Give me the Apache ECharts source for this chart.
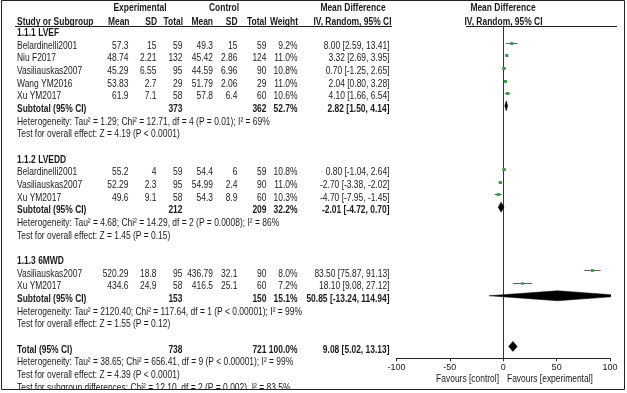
<!DOCTYPE html>
<html><head><meta charset="utf-8">
<script src="https://cdn.jsdelivr.net/npm/echarts@6/dist/echarts.min.js"></script>
<style>html,body{margin:0;padding:0;background:#fff}#c{width:627px;height:393px}</style>
</head><body><div id="c"></div>
<script>
// ---------------- DATA ----------------
const groupNames = ['1.1.1 LVEF', '1.1.2 LVEDD', '1.1.3 6MWD'];
const studyNames = ['Belardinelli2001', 'Niu F2017', 'Vasiliauskas2007', 'Wang YM2016', 'Xu YM2017',
                    'Belardinelli2001', 'Vasiliauskas2007', 'Xu YM2017',
                    'Vasiliauskas2007', 'Xu YM2017'];
const studyGroup = [0, 0, 0, 0, 0, 1, 1, 1, 2, 2];
const expMean  = [57.3, 48.74, 45.29, 53.83, 61.9, 55.2, 52.29, 49.6, 520.29, 434.6];
const expSD    = [15, 2.21, 6.55, 2.7, 7.1, 4, 2.3, 9.1, 18.8, 24.9];
const expN     = [59, 132, 95, 29, 58, 59, 95, 58, 95, 58];
const ctrlMean = [49.3, 45.42, 44.59, 51.79, 57.8, 54.4, 54.99, 54.3, 436.79, 416.5];
const ctrlSD   = [15, 2.86, 6.96, 2.06, 6.4, 6, 2.4, 8.9, 32.1, 25.1];
const ctrlN    = [59, 124, 90, 29, 60, 59, 90, 60, 90, 60];
const weight   = [9.2, 11.0, 10.8, 11.0, 10.6, 10.8, 11.0, 10.3, 8.0, 7.2];
const md       = [8.00, 3.32, 0.70, 2.04, 4.10, 0.80, -2.70, -4.70, 83.50, 18.10];
const ciLow    = [2.59, 2.69, -1.25, 0.80, 1.66, -1.04, -3.38, -7.95, 75.87, 9.08];
const ciHigh   = [13.41, 3.95, 2.65, 3.28, 6.54, 2.64, -2.02, -1.45, 91.13, 27.12];

const subExpN   = [373, 212, 153];
const subCtrlN  = [362, 209, 150];
const subWeight = [52.7, 32.2, 15.1];
const subMD     = [2.82, -2.01, 50.85];
const subLow    = [1.50, -4.72, -13.24];
const subHigh   = [4.14, 0.70, 114.94];
const subHet = [
  'Heterogeneity: Tau\u00b2 = 1.29; Chi\u00b2 = 12.71, df = 4 (P = 0.01); I\u00b2 = 69%',
  'Heterogeneity: Tau\u00b2 = 4.68; Chi\u00b2 = 14.29, df = 2 (P = 0.0008); I\u00b2 = 86%',
  'Heterogeneity: Tau\u00b2 = 2120.40; Chi\u00b2 = 117.64, df = 1 (P < 0.00001); I\u00b2 = 99%'
];
const subTest = [
  'Test for overall effect: Z = 4.19 (P < 0.0001)',
  'Test for overall effect: Z = 1.45 (P = 0.15)',
  'Test for overall effect: Z = 1.55 (P = 0.12)'
];
const totalExpN = 738, totalCtrlN = 721, totalWeight = 100.0;
const totalMD = 9.08, totalLow = 5.02, totalHigh = 13.13;
const totalHet = 'Heterogeneity: Tau\u00b2 = 38.65; Chi\u00b2 = 656.41, df = 9 (P < 0.00001); I\u00b2 = 99%';
const totalTest = 'Test for overall effect: Z = 4.39 (P < 0.0001)';
const subgroupTest = 'Test for subgroup differences: Chi\u00b2 = 12.10, df = 2 (P = 0.002), I\u00b2 = 83.5%';
const xTicks = [-100, -50, 0, 50, 100];
const favourLeft = 'Favours [control]';
const favourRight = 'Favours [experimental]';

// ---------------- FONT DETECTION ----------------
function textW(font, s) {
  const c = document.createElement('canvas').getContext('2d');
  c.font = font; return c.measureText(s).width;
}
const probe = 'Favours [experimental] 0123';
const narrowOK = textW('10px "Liberation Sans Narrow", monospace', probe) !== textW('10px monospace', probe);
const FONT = narrowOK ? '"Liberation Sans Narrow", "Arial Narrow", sans-serif' : '"Liberation Sans", Arial, sans-serif';
const SX = narrowOK ? 1 : 0.82;
const FS = 10.3;

// ---------------- LAYOUT ----------------
const TXT = '#1a1a1a';
const ROW0 = 33.2, STEP = 12.66, MARK_SHIFT = -3.3;
const rowY = r => ROW0 + r * STEP;
const COL = {name: 17, em: 128.5, esd: 156.5, en: 182.5, cm: 213, csd: 237.5, cn: 266.5, w: 297.5, ci: 389.5};
const PLOT = {left: 396.5, right: 610, top: 26, axisY: 358.3};

const fmtCI = (m, l, h) => m.toFixed(2) + ' [' + l.toFixed(2) + ', ' + h.toFixed(2) + ']';

const graphics = [];
function txt(s, x, y, align, bold) {
  graphics.push({
    type: 'text', x: x, y: y, scaleX: SX, silent: true, z: 10,
    style: {text: String(s), fontFamily: FONT, fontSize: FS, fontWeight: bold ? 'bold' : 'normal',
            fill: TXT, align: align || 'left', verticalAlign: 'middle'}
  });
}

// headers
const H1 = 8.3, H2 = 22.2;
txt('Experimental', 140, H1, 'center', true);
txt('Control', 224, H1, 'center', true);
txt('Mean Difference', 353, H1, 'center', true);
txt('Mean Difference', 503, H1, 'center', true);
txt('Study or Subgroup', COL.name, H2, 'left', true);
txt('Mean', COL.em + 1, H2, 'right', true);
txt('SD', COL.esd + 0.5, H2, 'right', true);
txt('Total', COL.en + 0.5, H2, 'right', true);
txt('Mean', COL.cm, H2, 'right', true);
txt('SD', COL.csd, H2, 'right', true);
txt('Total', COL.cn, H2, 'right', true);
txt('Weight', COL.w + 0.5, H2, 'right', true);
txt('IV, Random, 95% CI', COL.ci + 2, H2, 'right', true);
txt('IV, Random, 95% CI', 503.5, H2, 'center', true);
graphics.push({type: 'line', silent: true, shape: {x1: 15, y1: 26.5, x2: 392, y2: 26.5}, style: {stroke: '#222', lineWidth: 1}});
graphics.push({type: 'line', silent: true, shape: {x1: 466, y1: 26.5, x2: 617, y2: 26.5}, style: {stroke: '#222', lineWidth: 1}});

// rows
const studyMarks = [];
const diamondMarks = [];
let r = 0;
groupNames.forEach((g, gi) => {
  txt(g, COL.name, rowY(r), 'left', true);
  r++;
  studyNames.forEach((n, i) => {
    if (studyGroup[i] !== gi) return;
    const y = rowY(r);
    txt(n, COL.name, y, 'left');
    txt(expMean[i], COL.em, y, 'right');
    txt(expSD[i], COL.esd, y, 'right');
    txt(expN[i], COL.en, y, 'right');
    txt(ctrlMean[i], COL.cm, y, 'right');
    txt(ctrlSD[i], COL.csd, y, 'right');
    txt(ctrlN[i], COL.cn, y, 'right');
    txt(weight[i].toFixed(1) + '%', COL.w, y, 'right');
    txt(fmtCI(md[i], ciLow[i], ciHigh[i]), COL.ci, y, 'right');
    studyMarks.push([md[i], ciLow[i], ciHigh[i], r, weight[i]]);
    r++;
  });
  const y = rowY(r);
  txt('Subtotal (95% CI)', COL.name, y, 'left', true);
  txt(subExpN[gi], COL.en, y, 'right', true);
  txt(subCtrlN[gi], COL.cn, y, 'right', true);
  txt(subWeight[gi].toFixed(1) + '%', COL.w, y, 'right', true);
  txt(fmtCI(subMD[gi], subLow[gi], subHigh[gi]), COL.ci, y, 'right', true);
  diamondMarks.push([subMD[gi], subLow[gi], subHigh[gi], r]);
  r++;
  txt(subHet[gi], COL.name, rowY(r), 'left'); r++;
  txt(subTest[gi], COL.name, rowY(r), 'left'); r++;
  r++; // blank
});
const yT = rowY(r);
txt('Total (95% CI)', COL.name, yT, 'left', true);
txt(totalExpN, COL.en, yT, 'right', true);
txt(totalCtrlN, COL.cn, yT, 'right', true);
txt(totalWeight.toFixed(1) + '%', COL.w, yT, 'right', true);
txt(fmtCI(totalMD, totalLow, totalHigh), COL.ci, yT, 'right', true);
diamondMarks.push([totalMD, totalLow, totalHigh, r]);
r++;
txt(totalHet, COL.name, rowY(r), 'left'); r++;
txt(totalTest, COL.name, rowY(r), 'left'); r++;
txt(subgroupTest, COL.name, rowY(r), 'left'); r++;

txt(favourLeft, 499, 379, 'right');
txt(favourRight, 507, 379, 'left');

// frame & bottom clip
graphics.push({type: 'rect', silent: true, z: 20, shape: {x: 0, y: 389.5, width: 627, height: 4}, style: {fill: '#fff'}});
graphics.push({type: 'rect', silent: true, z: 21, shape: {x: 1.5, y: 0.5, width: 623, height: 389}, style: {fill: null, stroke: '#222', lineWidth: 1}});

const markBase = ROW0 + MARK_SHIFT;
const yMin = (PLOT.top - markBase) / STEP;
const yMax = (PLOT.axisY - markBase) / STEP;

const option = {
  animation: false,
  backgroundColor: '#fff',
  grid: {left: PLOT.left, right: 627 - PLOT.right, top: PLOT.top, bottom: 393 - PLOT.axisY, containLabel: false},
  xAxis: {
    type: 'value', min: -100, max: 100, interval: 50,
    axisLine: {show: true, onZero: false, lineStyle: {color: '#222', width: 1}},
    axisTick: {show: true, length: 3, lineStyle: {color: '#222'}},
    axisLabel: {show: true, fontFamily: FONT, fontSize: narrowOK ? FS : 9, color: TXT, margin: 5,
                customValues: xTicks},
    splitLine: {show: false}
  },
  yAxis: {
    type: 'value', inverse: true, min: yMin, max: yMax,
    axisLine: {show: true, onZero: true, lineStyle: {color: '#333', width: 1}},
    axisTick: {show: false}, axisLabel: {show: false}, splitLine: {show: false}
  },
  graphic: graphics,
  series: [
    {
      type: 'custom', clip: true, data: studyMarks,
      encode: {x: [0, 1, 2], y: 3},
      renderItem: function (params, api) {
        const c = api.coord([api.value(0), api.value(3)]);
        const l = api.coord([api.value(1), api.value(3)]);
        const h = api.coord([api.value(2), api.value(3)]);
        const s = 1.8 + api.value(4) * 0.13;
        const yy = Math.round(c[1]) + 0.5;
        return {type: 'group', children: [
          {type: 'line', shape: {x1: l[0], y1: yy, x2: h[0], y2: yy}, style: {stroke: '#56655b', lineWidth: 1}},
          {type: 'rect', shape: {x: c[0] - s / 2, y: yy - s / 2, width: s, height: s}, style: {fill: '#3f9a52'}}
        ]};
      }
    },
    {
      type: 'custom', clip: true, data: diamondMarks,
      encode: {x: [0, 1, 2], y: 3},
      renderItem: function (params, api) {
        const c = api.coord([api.value(0), api.value(3)]);
        const l = api.coord([api.value(1), api.value(3)]);
        const h = api.coord([api.value(2), api.value(3)]);
        const hh = 5;
        return {type: 'polygon', shape: {points: [[l[0], c[1]], [c[0], c[1] - hh], [h[0], c[1]], [c[0], c[1] + hh]]},
                style: {fill: '#000', stroke: '#000', lineWidth: 0.5}};
      }
    }
  ]
};
const chart = echarts.init(document.getElementById('c'), null, {renderer: 'canvas'});
chart.setOption(option);
</script>
</body></html>
